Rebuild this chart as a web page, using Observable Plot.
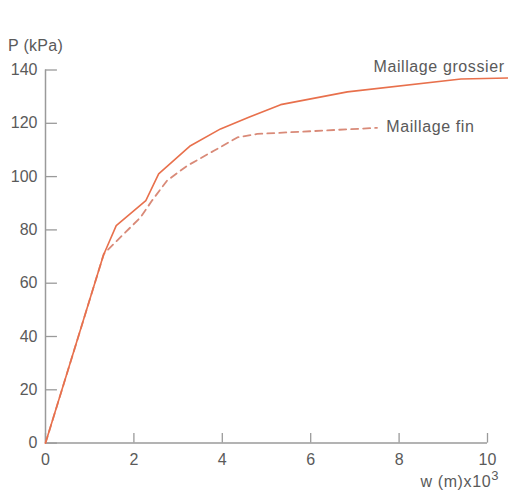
<!DOCTYPE html>
<html>
<head>
<meta charset="utf-8">
<script src="https://cdn.jsdelivr.net/npm/d3@7"></script>
<script src="https://cdn.jsdelivr.net/npm/@observablehq/plot@0.6"></script>
<style>
  html, body { margin: 0; padding: 0; background: #fff; }
  #chart svg { display: block; }
</style>
</head>
<body>
<div id="chart"></div>
<script>
// Courbe "Maillage grossier" (trait plein)
const coarseW = [0, 1.31, 1.6, 2.27, 2.56, 3.28, 3.96, 4.6, 5.32, 6.83, 9.4, 10.47];
const coarseP = [0, 70.5, 81.6, 91, 101, 111.6, 117.9, 122.3, 127, 131.8, 136.6, 137];
// Courbe "Maillage fin" (tirets)
const fineW = [0, 1.32, 1.62, 2.15, 2.41, 2.75, 3.2, 3.81, 4.34, 4.79, 7.5];
const fineP = [0, 71, 76, 84.7, 91, 98.5, 104, 109.7, 114.7, 116, 118.3];
// Graduations
const xTicks = [0, 2, 4, 6, 8, 10];
const yTicks = [0, 20, 40, 60, 80, 100, 120, 140];
// Étiquettes
const labels = [
  {w: 7.42, p: 141, text: "Maillage grossier"},
  {w: 7.71, p: 118.6, text: "Maillage fin"}
];

const coarse = coarseW.map((w, i) => ({w, p: coarseP[i]}));
const fine = fineW.map((w, i) => ({w, p: fineP[i]}));

const textColor = "#5a5a5a";
const axisColor = "#9a9a9a";
const lineColor = "#e8704c";
const dashColor = "#d98a78";

const chart = Plot.plot({
  width: 508,
  height: 491,
  marginLeft: 45,
  marginRight: 21,
  marginTop: 69.5,
  marginBottom: 48.4,
  style: {fontFamily: "'Liberation Sans', Arial, sans-serif", fontSize: "16px", color: textColor, background: "#fff"},
  x: {domain: [0, 10]},
  y: {domain: [0, 140]},
  marks: [
    Plot.axisX(xTicks, {tickSize: 0, tickPadding: 11, fontSize: 16, fill: textColor, label: null}),
    Plot.axisY(yTicks, {tickSize: 0, tickPadding: 8, fontSize: 16, fill: textColor, label: null}),
    Plot.ruleY(yTicks, {x1: 0, x2: 0.27, stroke: axisColor, strokeWidth: 1.3}),
    Plot.ruleX(xTicks, {y1: 0, y2: 3.6, stroke: axisColor, strokeWidth: 1.3}),
    Plot.ruleX([0], {stroke: axisColor, strokeWidth: 1.5}),
    Plot.ruleY([0], {stroke: axisColor, strokeWidth: 1.5}),
    Plot.line(fine, {x: "w", y: "p", stroke: dashColor, strokeWidth: 1.8, strokeDasharray: "7,5"}),
    Plot.line(coarse, {x: "w", y: "p", stroke: lineColor, strokeWidth: 1.6}),
    Plot.text(labels, {x: "w", y: "p", text: "text", textAnchor: "start", fontSize: 16, fill: textColor})
  ]
});

const svg = d3.select(chart);
svg.selectAll("g[aria-label='text'] text").attr("letter-spacing", "0.6px");
// Titres des axes
svg.append("text")
  .attr("x", 8).attr("y", 51)
  .attr("text-anchor", "start")
  .attr("fill", textColor).attr("font-size", 16)
  .attr("letter-spacing", "0.3px")
  .text("P (kPa)");
const xl = svg.append("text")
  .attr("x", 499).attr("y", 487)
  .attr("text-anchor", "end")
  .attr("fill", textColor).attr("font-size", 16)
  .attr("letter-spacing", "0.6px");
xl.append("tspan").text("w (m)x10");
xl.append("tspan").attr("dy", -7).attr("font-size", 13).text("3");

document.getElementById("chart").appendChild(chart);
</script>
</body>
</html>
